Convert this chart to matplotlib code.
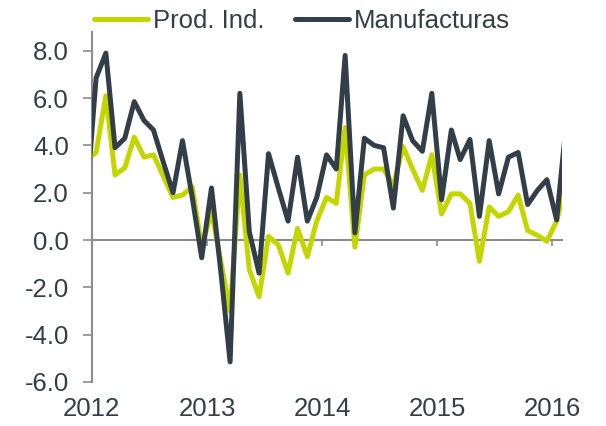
import matplotlib
matplotlib.use("Agg")
import matplotlib.pyplot as plt
import pandas as pd

plt.rcParams['font.family'] = ['Liberation Sans', 'DejaVu Sans']
plt.rcParams['axes.unicode_minus'] = False

# Monthly data, Dec 2011 .. Feb 2016 (mid-month points)
months = pd.date_range('2011-12-01', periods=51, freq='MS') + pd.Timedelta(days=14)
prod_ind = [3.4,
            3.7, 6.1, 2.75, 3.05, 4.35, 3.5, 3.6, 2.7, 1.8, 1.9, 2.25, -0.3,
            1.2, -1.0, -3.0, 2.75, -1.25, -2.4, 0.15, -0.2, -1.4, 0.5, -0.7, 0.8,
            1.8, 1.55, 4.75, -0.3, 2.75, 3.0, 3.0, 2.3, 3.95, 3.0, 2.1, 3.6,
            1.1, 1.95, 1.95, 1.55, -0.9, 1.4, 1.0, 1.2, 1.9, 0.4, 0.2, -0.05,
            0.8, 2.5]
manufacturas = [1.6,
                6.85, 7.9, 3.9, 4.3, 5.85, 5.05, 4.65, 3.3, 2.0, 4.2, 1.8, -0.75,
                2.2, -1.5, -5.15, 6.2, 0.35, -1.4, 3.65, 2.2, 0.8, 3.5, 0.8, 1.8,
                3.6, 3.0, 7.8, 0.3, 4.3, 4.0, 3.9, 1.35, 5.25, 4.2, 3.75, 6.2,
                1.7, 4.65, 3.4, 4.25, 1.0, 4.2, 1.95, 3.5, 3.7, 1.5, 2.1, 2.55,
                0.85, 5.0]
series_names = ['Prod. Ind.', 'Manufacturas']
years = [2012, 2013, 2014, 2015, 2016]
yticks = [-6, -4, -2, 0, 2, 4, 6, 8]

green = '#C4D600'
dark = '#333F48'
axis_gray = '#8C8C8C'
text_col = '#333F48'

W, H = 606, 426
fig = plt.figure(figsize=(W / 100, H / 100), dpi=100)
ymin, ymax = -6, 8.8
ax = fig.add_axes([91.7 / W, 1 - 382 / H, (562 - 91.7) / W, (382 - 31.8) / H])

l1, = ax.plot(months, prod_ind, color=green, lw=3.6, solid_joinstyle='round',
              solid_capstyle='round', zorder=3, label=series_names[0])
l2, = ax.plot(months, manufacturas, color=dark, lw=3.6, solid_joinstyle='round',
              solid_capstyle='round', zorder=4, label=series_names[1])

ax.set_ylim(ymin, ymax)
ax.set_xlim(pd.Timestamp('2012-01-01'), pd.Timestamp('2016-02-01'))

for s in ['top', 'right']:
    ax.spines[s].set_visible(False)
ax.spines['left'].set_color(axis_gray)
ax.spines['left'].set_linewidth(1.5)
ax.spines['bottom'].set_color(axis_gray)
ax.spines['bottom'].set_linewidth(1.5)
ax.spines['bottom'].set_position(('data', 0))

ax.set_yticks(yticks)
ax.set_yticklabels([f'{v:.1f}' for v in yticks])
ax.tick_params(axis='y', direction='out', length=6.5, width=1.2, color=axis_gray,
               labelsize=18.5, labelcolor=text_col, pad=10)

ytick_dates = [pd.Timestamp(f'{y}-01-01') for y in years]
ax.set_xticks(ytick_dates)
ax.tick_params(axis='x', direction='out', length=4.5, width=1.2, color=axis_gray,
               labelbottom=False)
for d, y in zip(ytick_dates, years):
    ax.annotate(str(y), xy=(d, 0), xycoords=('data', 'axes fraction'),
                xytext=(0, -11), textcoords='offset points', ha='center', va='top',
                fontsize=18.5, color=text_col, annotation_clip=False)

fig.legend(handles=[l1, l2], loc='center', bbox_to_anchor=(302 / W, 1 - 21 / H),
           ncol=2, frameon=False, fontsize=18.5, handlelength=2.1,
           handletextpad=0.2, columnspacing=1.2, labelcolor=text_col,
           borderaxespad=0, borderpad=0)

fig.savefig('out.png', dpi=100)
